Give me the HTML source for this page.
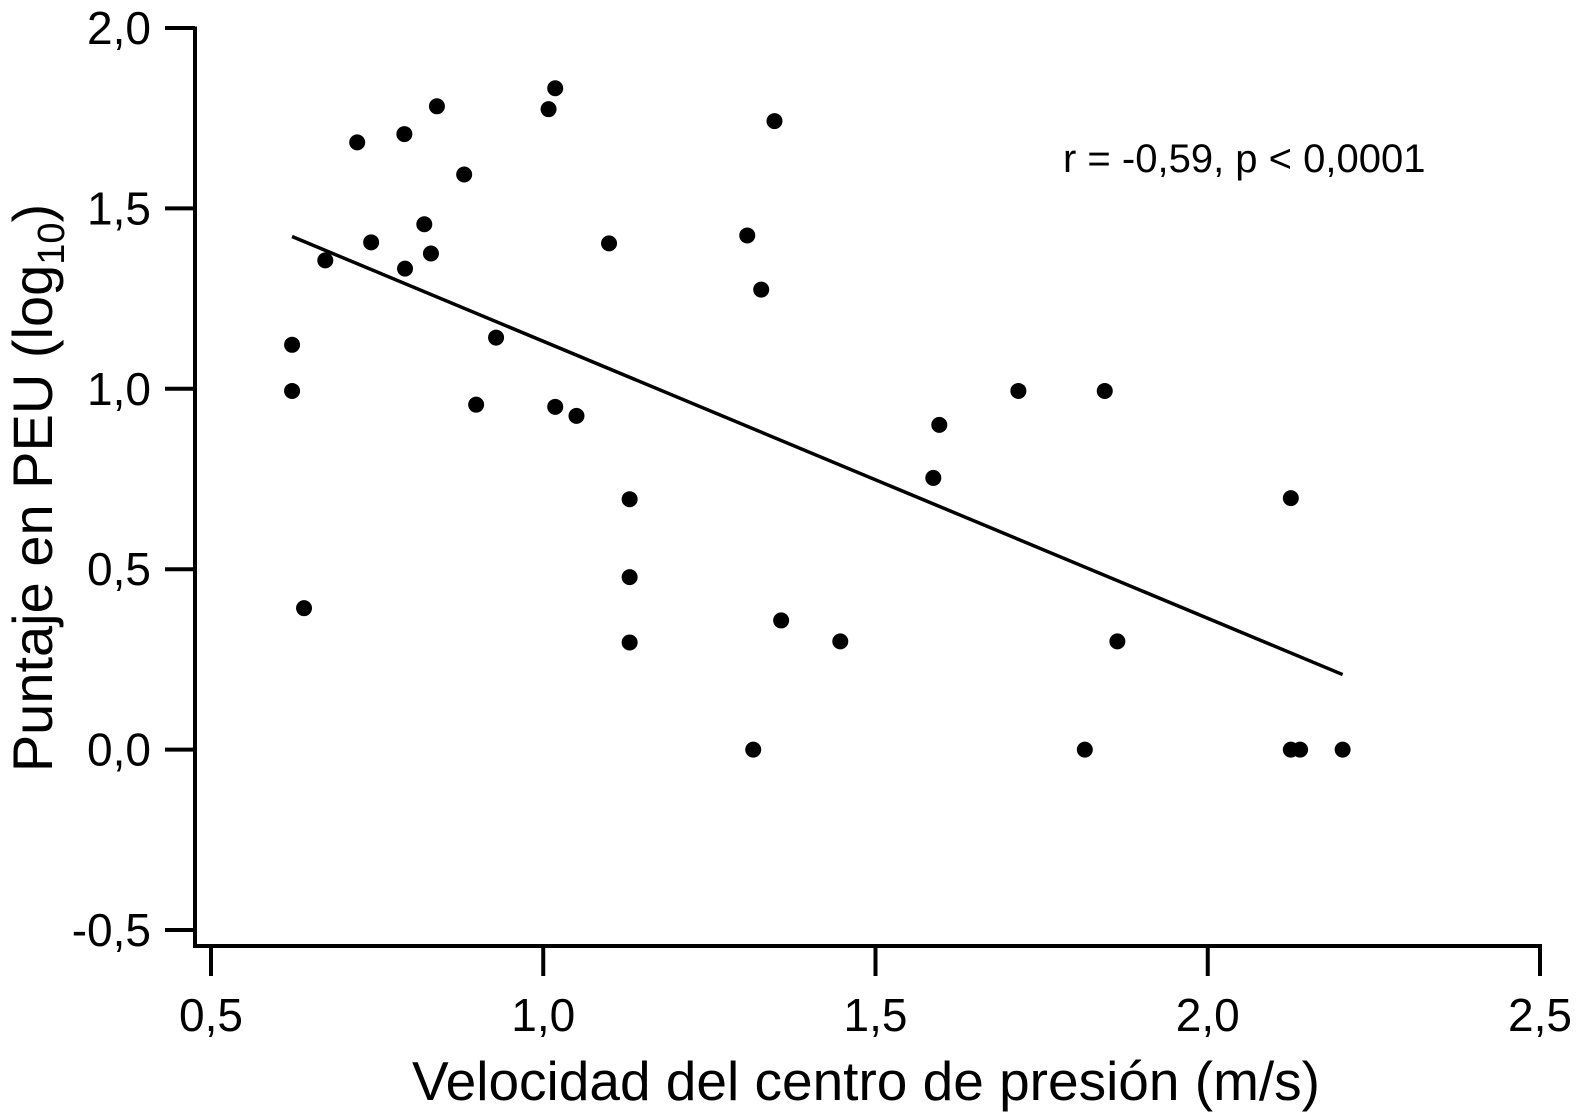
<!DOCTYPE html>
<html><head><meta charset="utf-8"><style>
html,body{margin:0;padding:0;background:#fff}
svg{display:block}
text{font-family:"Liberation Sans",Arial,sans-serif;fill:#000}
</style></head><body>
<svg id="chart" width="1576" height="1118" viewBox="0 0 1576 1118" xmlns="http://www.w3.org/2000/svg">
<g id="axes"></g>
<g id="marks"></g>
<text transform="translate(52,488) rotate(-90)" text-anchor="middle" font-size="56">Puntaje en PEU (log<tspan font-size="38" dy="12">10</tspan><tspan dy="-12">)</tspan></text>
<text x="866" y="1100" text-anchor="middle" font-size="55">Velocidad del centro de presión (m/s)</text>
<text x="1063" y="172" font-size="40">r = -0,59, p &lt; 0,0001</text>
</svg>
<script>
const xTicks=[0.5,1.0,1.5,2.0,2.5];
const xTickLabels=["0,5","1,0","1,5","2,0","2,5"];
const yTicks=[2.0,1.5,1.0,0.5,0.0,-0.5];
const yTickLabels=["2,0","1,5","1,0","0,5","0,0","-0,5"];
const xValues=[0.622,0.622,0.640,0.672,0.720,0.741,0.791,0.792,0.821,0.831,0.840,0.881,0.899,0.929,1.008,1.018,1.018,1.050,1.099,1.130,1.130,1.130,1.307,1.316,1.328,1.348,1.358,1.447,1.587,1.596,1.715,1.815,1.845,1.864,2.125,2.125,2.139,2.203];
const yValues=[1.122,0.994,0.392,1.356,1.683,1.406,1.706,1.333,1.456,1.375,1.783,1.594,0.956,1.142,1.775,1.833,0.950,0.925,1.403,0.694,0.478,0.297,1.425,0.0,1.275,1.742,0.358,0.300,0.753,0.900,0.994,0.0,0.994,0.300,0.697,0.0,0.0,0.0];
const fitX=[0.622,2.203];
const fitY=[1.422,0.208];

const NS="http://www.w3.org/2000/svg";
const sx=v=>211+(v-0.5)*664.5;
const sy=v=>749.6-v*360.8;
const axes=document.getElementById('axes');
const marks=document.getElementById('marks');
function mk(tag,attrs,parent){const e=document.createElementNS(NS,tag);for(const k in attrs)e.setAttribute(k,attrs[k]);parent.appendChild(e);return e;}

let yl=mk('line',{x1:195,y1:sy(2.0)-1.5,x2:195,y2:948},axes);
yl.setAttribute('stroke','#000');yl.setAttribute('stroke-width','4');


let xl=mk('line',{x1:193,y1:946,x2:sx(2.5)+2,y2:946,stroke:'#000','stroke-width':4},axes);



yTicks.forEach((v,i)=>{
  const t=mk('line',{x1:165,y1:sy(v),x2:195,y2:sy(v),stroke:'#000','stroke-width':4},axes);
  
  
  const l=mk('text',{x:151,y:sy(v)+16,'text-anchor':'end','font-size':46},axes);
  l.textContent=yTickLabels[i];
  
  
});
xTicks.forEach((v,i)=>{
  const t=mk('line',{x1:sx(v),y1:946,x2:sx(v),y2:976,stroke:'#000','stroke-width':4},axes);
  
  
  const l=mk('text',{x:sx(v),y:1031,'text-anchor':'middle','font-size':46},axes);
  l.textContent=xTickLabels[i];
  
  
});
const fit=mk('line',{x1:sx(fitX[0]),y1:sy(fitY[0]),x2:sx(fitX[1]),y2:sy(fitY[1]),stroke:'#000','stroke-width':3.5},marks);


xValues.forEach((x,i)=>{
  const c=mk('circle',{cx:sx(x),cy:sy(yValues[i]),r:8,fill:'#000'},marks);
  
  
});
</script>
</body></html>
